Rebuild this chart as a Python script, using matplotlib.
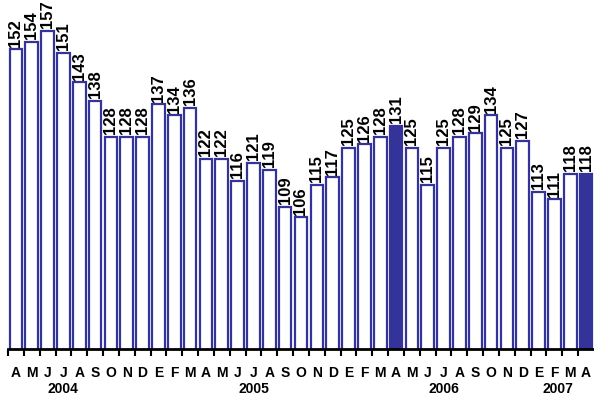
import matplotlib.pyplot as plt
import numpy as np

plt.rcParams['font.family'] = ['Liberation Sans', 'DejaVu Sans']

# monthly values, April 2004 .. April 2007
months = ['A', 'M', 'J', 'J', 'A', 'S', 'O', 'N', 'D', 'E', 'F', 'M',
          'A', 'M', 'J', 'J', 'A', 'S', 'O', 'N', 'D', 'E', 'F', 'M',
          'A', 'M', 'J', 'J', 'A', 'S', 'O', 'N', 'D', 'E', 'F', 'M',
          'A']
values = [152, 154, 157, 151, 143, 138, 128, 128, 128, 137, 134, 136,
          122, 122, 116, 121, 119, 109, 106, 115, 117, 125, 126, 128,
          131, 125, 115, 125, 128, 129, 134, 125, 127, 113, 111, 118,
          118]
highlight = [24, 36]  # April bars drawn filled
years = ['2004', '2005', '2006', '2007']
year_pos = [3, 15, 27, 34.2]

navy = '#333399'

fig = plt.figure(figsize=(5.94, 4.02), dpi=100)
ax = fig.add_axes([8 / 594, 52 / 402, 586 / 594, 350 / 402])

x = np.arange(len(values))
faces = [navy if i in highlight else 'white' for i in x]
ax.bar(x, values, width=0.8, color=faces, edgecolor=navy, linewidth=1.6, zorder=2)

for xi, v in zip(x, values):
    ax.text(xi, v + 1.0, str(v), rotation=90, ha='center', va='bottom',
            fontsize=12, fontweight='bold', clip_on=False)

ax.set_xlim(-0.5, len(values) - 0.5)
ax.set_ylim(70, 165.8)

for s in ['top', 'right', 'left']:
    ax.spines[s].set_visible(False)
ax.spines['bottom'].set_linewidth(2)
ax.set_yticks([])

# ticks between bars, month letters centred under bars
ax.set_xticks(np.arange(len(values)) - 0.5)
ax.set_xticklabels([])
ax.tick_params(axis='x', direction='out', length=5, width=1.5, color='black')
for xi, m in zip(x, months):
    ax.text(xi, -0.066, m, transform=ax.get_xaxis_transform(), ha='center', va='center',
            fontsize=10, fontweight='bold')
for p, yr in zip(year_pos, years):
    ax.text(p, -0.111, yr, transform=ax.get_xaxis_transform(), ha='center', va='center',
            fontsize=10, fontweight='bold')

fig.savefig('out.png', dpi=100)
